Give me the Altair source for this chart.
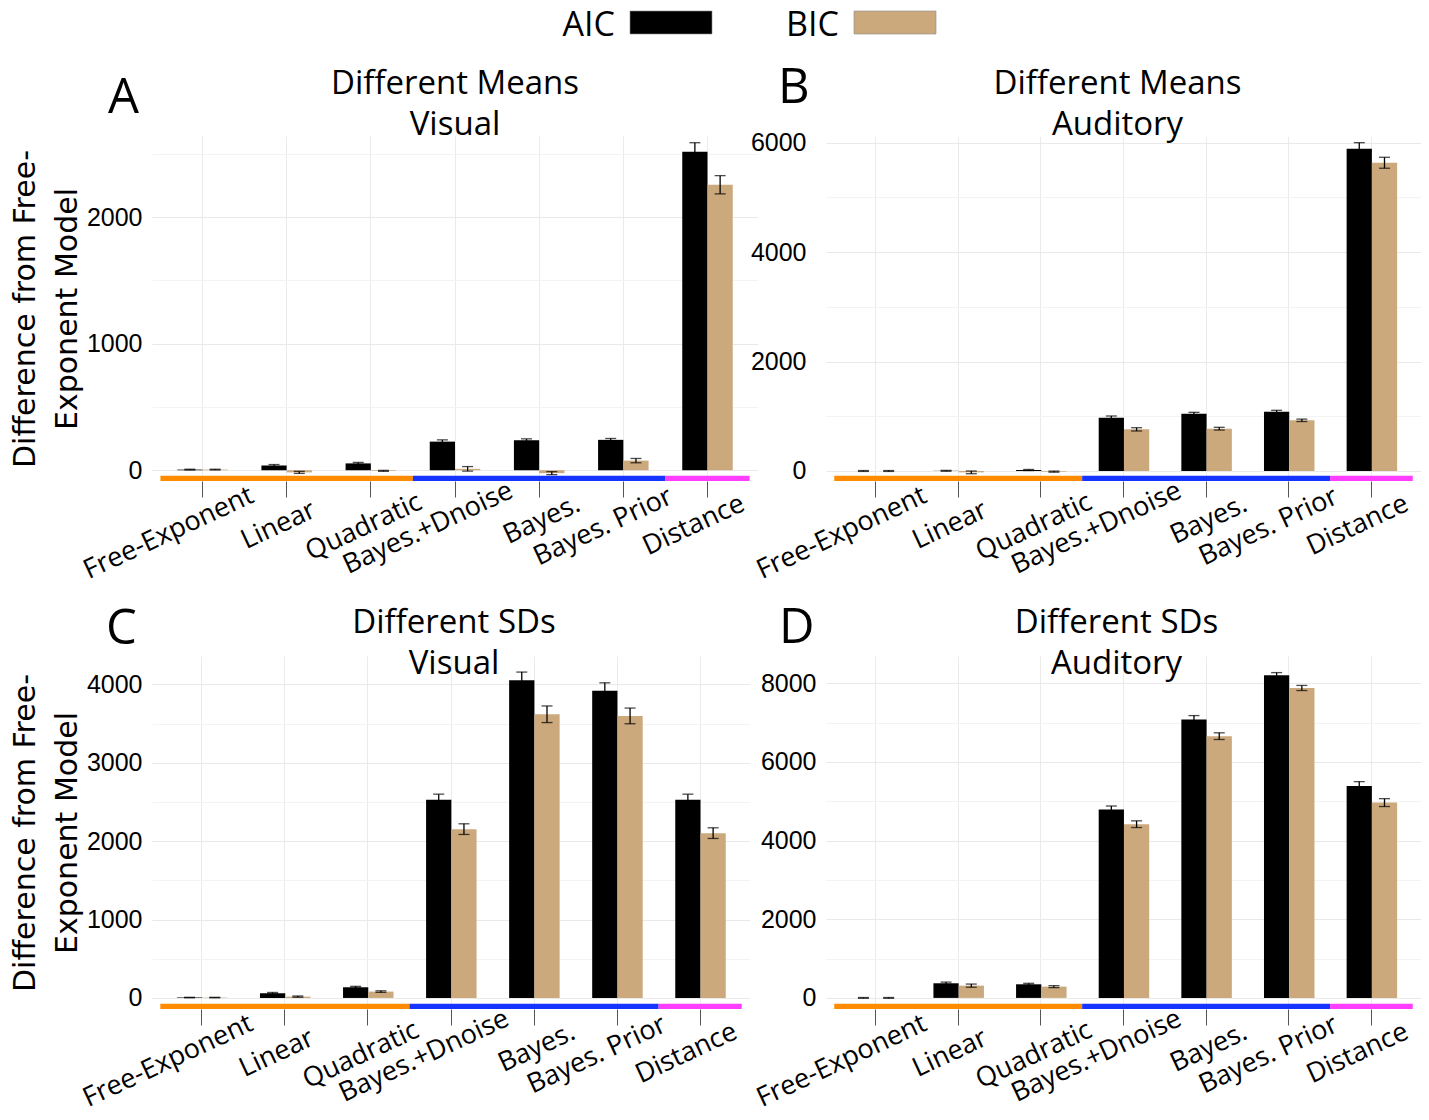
import altair as alt
import pandas as pd

# ---------------- data ----------------
models = ["Free-Exponent", "Linear", "Quadratic", "Bayes.+Dnoise", "Bayes.", "Bayes. Prior", "Distance"]
criteria = ["AIC", "BIC"]
crit_colors = ["#000000", "#CBA97C"]

# model families shown by the coloured strip under each panel (index ranges of models)
family_names = ["Power", "Bayesian", "Distance"]
family_start = [-0.5, 2.5, 5.5]
family_end = [2.5, 5.5, 6.5]
family_colors = ["#FF8C00", "#1534FF", "#FF3DFF"]

# A: Different Means, Visual
a_aic = [5, 37, 54, 226, 237, 240, 2516]
a_aic_err = [3, 8, 8, 14, 11, 11, 71]
a_bic = [5, -17, -5, 11, -23, 76, 2255]
a_bic_err = [3, 8, 4, 18, 12, 17, 72]

# B: Different Means, Auditory
b_aic = [0, 3, 18, 975, 1047, 1084, 5890]
b_aic_err = [8, 8, 10, 30, 25, 25, 110]
b_bic = [0, -25, -12, 761, 773, 926, 5633]
b_bic_err = [8, 25, 10, 30, 25, 22, 100]

# C: Different SDs, Visual
c_aic = [5, 60, 136, 2527, 4051, 3919, 2527]
c_aic_err = [3, 10, 12, 72, 105, 100, 72]
c_bic = [5, 17, 81, 2153, 3618, 3597, 2102]
c_bic_err = [3, 8, 10, 68, 106, 100, 68]

# D: Different SDs, Auditory
d_aic = [0, 372, 346, 4789, 7078, 8201, 5389]
d_aic_err = [10, 30, 25, 90, 100, 70, 110]
d_bic = [0, 312, 287, 4417, 6655, 7880, 4966]
d_bic_err = [10, 40, 25, 85, 85, 65, 100]

# ---------------- style ----------------
LABEL_FONT = "Open Sans"
NUM_FONT = "Liberation Sans"
# per-label shift of the rotated x labels (ggplot-like justification)
label_dx = {"Free-Exponent": 44, "Linear": 22, "Quadratic": 44, "Bayes.+Dnoise": 51,
            "Bayes.": 34, "Bayes. Prior": 42, "Distance": 30}
label_dy = {"Free-Exponent": -15, "Linear": -0.5, "Quadratic": -8.5, "Bayes.+Dnoise": -20,
            "Bayes.": -6.5, "Bayes. Prior": -14, "Distance": -7}


def cond(mapping, default):
    return {"condition": [{"test": f"datum.label === '{k}'", "value": v} for k, v in mapping.items()],
            "value": default}


label_offset = cond(label_dx, 30)
label_pad = cond(label_dy, -8)


def panel(lines, letter, aic, aic_err, bic, bic_err, ydom, ymax_tick, ystep, major,
          width, height, ytitle, letter_xy, title_xy, ylab_pad):
    rows = []
    for i, m in enumerate(models):
        rows.append({"model": m, "criterion": "AIC", "value": aic[i],
                     "lo": aic[i] - aic_err[i], "hi": aic[i] + aic_err[i]})
        rows.append({"model": m, "criterion": "BIC", "value": bic[i],
                     "lo": bic[i] - bic_err[i], "hi": bic[i] + bic_err[i]})
    df = pd.DataFrame(rows)
    base = alt.Chart(df)

    x_axis = alt.Axis(
        title=None, domain=False, ticks=True, tickColor="#555555", tickWidth=1, tickSize=16,
        labelAngle=335, labelAlign="right", labelBaseline="top", labelFont=LABEL_FONT,
        labelFontSize=27, labelColor="black", labelOffset=label_offset, labelPadding=label_pad,
        labelLimit=500, labelOverlap=False, grid=True, gridColor="#EBEBEB", gridWidth=1,
        bandPosition=0.5)
    x = alt.X("model:N", sort=models, title=None,
              scale=alt.Scale(paddingInner=0.4, paddingOuter=0.3), axis=x_axis)
    x_plain = alt.X("model:N", sort=models, title=None)
    xo = alt.XOffset("criterion:N", sort=criteria, scale=alt.Scale(paddingInner=0, paddingOuter=0))

    tick_vals = list(range(0, ymax_tick + 1, ystep))
    y_axis_kw = dict(
        values=tick_vals, format="d",
        labelExpr=f"datum.value % {major} === 0 ? datum.label : ''",
        domain=False, ticks=False, labelFont=NUM_FONT, labelFontSize=25, labelColor="black",
        labelPadding=ylab_pad, grid=True,
        gridColor={"condition": {"test": f"datum.value % {major} === 0", "value": "#E9E9E9"},
                   "value": "#F3F3F3"},
        gridWidth=1)
    if ytitle:
        y_axis_kw.update(
            title=["Difference from Free-", "Exponent Model"], titleFont="DejaVu Sans",
            titleFontSize=30, titleFontWeight="normal", titleColor="black", titleAngle=270,
            titleAlign="center", titleBaseline="middle", titleLineHeight=42,
            titleX=-127, titleY=height / 2)
    else:
        y_axis_kw.update(title=None)
    y = alt.Y("value:Q", scale=alt.Scale(domain=ydom, nice=False, zero=False),
              axis=alt.Axis(**y_axis_kw))

    bars = base.mark_bar().encode(
        x=x, xOffset=xo, y=y, y2=alt.datum(0),
        color=alt.Color("criterion:N", scale=alt.Scale(domain=criteria, range=crit_colors),
                        legend=None))
    stems = base.mark_rule(color="black", strokeWidth=1.3).encode(
        x=x_plain, xOffset=xo, y="lo:Q", y2="hi:Q")
    caps_lo = base.mark_tick(color="black", size=11, thickness=1.3).encode(
        x=x_plain, xOffset=xo, y="lo:Q")
    caps_hi = base.mark_tick(color="black", size=11, thickness=1.3).encode(
        x=x_plain, xOffset=xo, y="hi:Q")
    data_layer = alt.layer(bars, stems, caps_lo, caps_hi)

    fam = pd.DataFrame({"family": family_names, "start": family_start, "end": family_end})
    strip = alt.Chart(fam).mark_rect().encode(
        x=alt.X("start:Q", scale=alt.Scale(domain=[-0.6, 6.6], nice=False, zero=False), axis=None),
        x2="end:Q",
        y=alt.value(height - 5.3), y2=alt.value(height),
        color=alt.Color("family:N", scale=alt.Scale(domain=family_names, range=family_colors),
                        legend=None))

    one = pd.DataFrame({"k": [0]})
    title = alt.Chart(one).mark_text(
        text=lines, lineHeight=41, font=LABEL_FONT, fontSize=33, align="center",
        baseline="alphabetic", color="black").encode(
        x=alt.value(width / 2 + title_xy[0]), y=alt.value(title_xy[1]))
    let = alt.Chart(one).mark_text(
        text=letter, font=LABEL_FONT, fontSize=49, align="left", baseline="alphabetic",
        color="black").encode(x=alt.value(letter_xy[0]), y=alt.value(letter_xy[1]))

    return alt.layer(data_layer, strip, title, let).resolve_scale(
        x="independent", color="independent").properties(width=width, height=height)


pA = panel(["Different Means", "Visual"], "A", a_aic, a_aic_err, a_bic, a_bic_err,
           [-85, 2640], 2500, 500, 1000, 606, 345, True, (-44, -23), (0, -42.5), 10)
pB = panel(["Different Means", "Auditory"], "B", b_aic, b_aic_err, b_bic, b_bic_err,
           [-183, 6122], 6000, 1000, 2000, 595, 345, False, (-48, -33), (-6, -42.5), 20)
pC = panel(["Different SDs", "Visual"], "C", c_aic, c_aic_err, c_bic, c_bic_err,
           [-141, 4361], 4000, 500, 1000, 598, 353, True, (-46, -12), (3, -23), 10)
pD = panel(["Different SDs", "Auditory"], "D", d_aic, d_aic_err, d_bic, d_bic_err,
           [-282, 8693], 8000, 1000, 2000, 595, 353, False, (-47, -13), (-7, -23), 10)

# ---------------- legend ----------------
leg_df = pd.DataFrame({"criterion": criteria})
leg_x = alt.X("criterion:N", sort=criteria,
              scale=alt.Scale(type="point", range=[519, 743], padding=0), axis=None)
leg_rect = alt.Chart(leg_df).mark_bar(width=82, stroke="#8a8a8a", strokeWidth=0.6).encode(
    x=leg_x, y=alt.value(0), y2=alt.value(23),
    color=alt.Color("criterion:N", scale=alt.Scale(domain=criteria, range=crit_colors), legend=None))
leg_text = alt.Chart(leg_df).mark_text(
    align="right", baseline="alphabetic", dx=-56, font=LABEL_FONT, fontSize=34, color="black"
).encode(x=leg_x, y=alt.value(24.5), text="criterion:N")
legend = alt.layer(leg_rect, leg_text).properties(width=1262, height=23)

grid = alt.concat(pA, pB, pC, pD, columns=2, spacing={"row": 175, "column": 68}, bounds="flush")

chart = alt.vconcat(legend, grid, spacing=102, bounds="flush").properties(
    padding={"left": 2, "top": 0, "right": 0, "bottom": 0},
    background="white",
).configure_view(stroke=None)

chart.save("out.html", embed_options={"renderer": "svg", "actions": False})
